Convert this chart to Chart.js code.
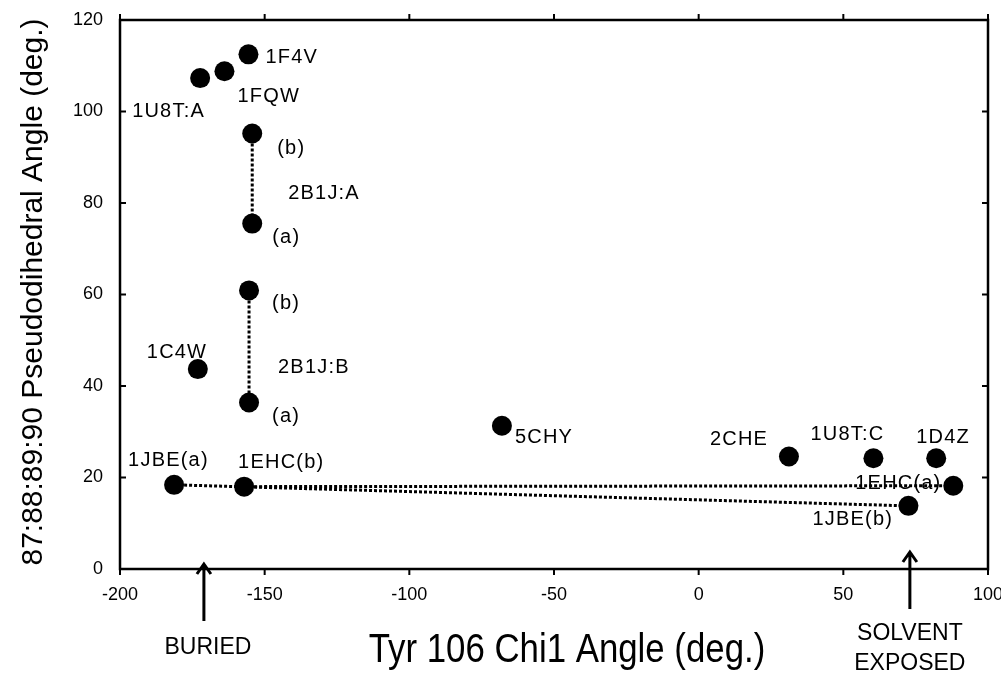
<!DOCTYPE html>
<html>
<head>
<meta charset="utf-8">
<script src="https://cdn.jsdelivr.net/npm/chart.js@4"></script>
<style>
  html, body { margin: 0; padding: 0; background: #fff; }
  #wrap { width: 1001px; height: 680px; }
</style>
</head>
<body>
<div id="wrap"><canvas id="chart1"></canvas></div>
<script>
// CHART DATA
// -----------------------------
let names = ['1U8T:A', '1FQW', '1F4V', '(b)', '(a)', '(b)', '(a)', '1C4W',
  '1JBE(a)', '1EHC(b)', '5CHY', '2CHE', '1U8T:C', '1D4Z', '1EHC(a)', '1JBE(b)'];
let chi1 = [-172.3, -163.9, -155.6, -154.3, -154.3, -155.4, -155.4, -173.1,
  -181.3, -157.1, -68.0, 31.2, 60.4, 82.1, 88.0, 72.5];
let pseudo = [107.3, 108.8, 112.5, 95.2, 75.5, 60.9, 36.4, 43.7,
  18.4, 18.0, 31.3, 24.6, 24.2, 24.2, 18.2, 13.8];

// dotted links between two states of the same structure (index pairs)
let links = [[3, 4], [5, 6], [8, 15], [9, 14]];

// group names written between the (a)/(b) pairs
let groupNames = ['2B1J:A', '2B1J:B'];
let groupAnchor = [4, 6];

let xTicks = [-200, -150, -100, -50, 0, 50, 100];
let yTicks = [0, 20, 40, 60, 80, 100, 120];

// arrows under the x axis
let arrowX = [-171, 73];
let arrowText = [['BURIED'], ['SOLVENT', 'EXPOSED']];

// label offsets (px) from each point: left edge of text, middle of text
let labelOff = [[-68, 33], [13, 25], [17, 3], [25, 15], [20, 14], [23, 13], [23, 14], [-51, -17],
  [-46, -24], [-6, -24], [13, 12], [-79, -17], [-63, -24], [-20, -21], [-98, -2], [-96, 14]];
let groupOff = [[36, -30], [29, -35]];

// CHART CONFIG
// -----------------------------
let pointData = chi1.map((x, i) => ({ x: x, y: pseudo[i] }));

let linkSets = links.map(pair => ({
  data: pair.map(i => pointData[i]),
  showLine: true,
  pointRadius: 0,
  borderColor: '#000',
  borderWidth: 3,
  borderDash: [3, 2],
  fill: false,
}));

const font = '"Liberation Sans", Arial, Helvetica, sans-serif';

let decor = {
  id: 'decor',
  afterDraw(chart) {
    const ctx = chart.ctx;
    const a = chart.chartArea;
    const sx = chart.scales.x;
    const sy = chart.scales.y;
    ctx.save();
    ctx.strokeStyle = '#000';
    ctx.fillStyle = '#000';

    // frame
    ctx.lineWidth = 2.5;
    ctx.strokeRect(a.left, a.top, a.right - a.left, a.bottom - a.top);

    // ticks
    ctx.lineWidth = 2;
    ctx.beginPath();
    xTicks.forEach(v => {
      const px = sx.getPixelForValue(v);
      ctx.moveTo(px, a.bottom); ctx.lineTo(px, a.bottom + 6);
      ctx.moveTo(px, a.top); ctx.lineTo(px, a.top - 6);
    });
    yTicks.forEach(v => {
      const py = sy.getPixelForValue(v);
      ctx.moveTo(a.left, py); ctx.lineTo(a.left + 6, py);
      ctx.moveTo(a.right, py); ctx.lineTo(a.right - 6, py);
    });
    ctx.stroke();

    // point labels
    ctx.font = '20px ' + font;
    ctx.letterSpacing = '1.2px';
    ctx.textAlign = 'left';
    ctx.textBaseline = 'middle';
    names.forEach((n, i) => {
      const px = sx.getPixelForValue(chi1[i]);
      const py = sy.getPixelForValue(pseudo[i]);
      ctx.fillText(n, px + labelOff[i][0], py + labelOff[i][1]);
    });
    groupNames.forEach((n, g) => {
      const i = groupAnchor[g];
      const px = sx.getPixelForValue(chi1[i]);
      const py = sy.getPixelForValue(pseudo[i]);
      ctx.fillText(n, px + groupOff[g][0], py + groupOff[g][1]);
    });
    ctx.letterSpacing = '0px';

    // arrows
    ctx.lineWidth = 3;
    const tops = [a.bottom - 5, a.bottom - 17];
    const bots = [a.bottom + 52, a.bottom + 40];
    arrowX.forEach((v, k) => {
      const px = sx.getPixelForValue(v);
      ctx.beginPath();
      ctx.moveTo(px, bots[k]); ctx.lineTo(px, tops[k]);
      ctx.moveTo(px - 7, tops[k] + 10); ctx.lineTo(px, tops[k]); ctx.lineTo(px + 7, tops[k] + 10);
      ctx.stroke();
    });

    ctx.font = '23px ' + font;
    ctx.textAlign = 'center';
    arrowText.forEach((lines, k) => {
      const px = sx.getPixelForValue(arrowX[k]) + (k === 0 ? 4 : 0);
      const y0 = k === 0 ? 648 : 634;
      lines.forEach((t, j) => ctx.fillText(t, px, y0 + j * 30));
    });

    // axis titles (the original type is tall and narrow)
    ctx.save();
    ctx.translate(567, 651);
    ctx.scale(0.87, 1);
    ctx.font = '40px ' + font;
    ctx.fillText('Tyr 106 Chi1 Angle (deg.)', 0, 0);
    ctx.restore();

    ctx.save();
    ctx.translate(34, 292);
    ctx.rotate(-Math.PI / 2);
    ctx.font = '30px ' + font;
    ctx.fillText('87:88:89:90 Pseudodihedral Angle (deg.)', 0, 0);
    ctx.restore();

    ctx.restore();
  }
};

let chart1Data = {
  type: 'scatter',
  data: {
    datasets: [
      {
        data: pointData,
        pointRadius: 10,
        pointHoverRadius: 10,
        backgroundColor: '#000',
        borderColor: '#000',
        borderWidth: 0,
      },
    ].concat(linkSets),
  },
  options: {
    responsive: false,
    animation: false,
    layout: { padding: { top: 20, right: 13, left: 0, bottom: 0 } },
    plugins: {
      legend: { display: false },
      tooltip: { enabled: false },
    },
    scales: {
      x: {
        type: 'linear',
        min: -200,
        max: 100,
        afterBuildTicks: s => { s.ticks = xTicks.map(v => ({ value: v })); },
        afterFit: s => { s.height = 111; s.paddingLeft = 0; s.paddingRight = 0; },
        grid: { display: false, drawTicks: false },
        border: { display: false },
        ticks: { color: '#000', padding: 15, font: { family: font, size: 18 } },
      },
      y: {
        type: 'linear',
        min: 0,
        max: 120,
        afterBuildTicks: s => { s.ticks = yTicks.map(v => ({ value: v })); },
        afterFit: s => { s.width = 120; s.paddingTop = 0; s.paddingBottom = 0; },
        grid: { display: false, drawTicks: false },
        border: { display: false },
        ticks: { color: '#000', padding: 17, font: { family: font, size: 18 } },
      },
    },
  },
  plugins: [decor],
};

// RENDER CHART
// -----------------------------
let cv = document.getElementById('chart1');
cv.width = 1001;
cv.height = 680;
new Chart(cv, chart1Data);
</script>
</body>
</html>
